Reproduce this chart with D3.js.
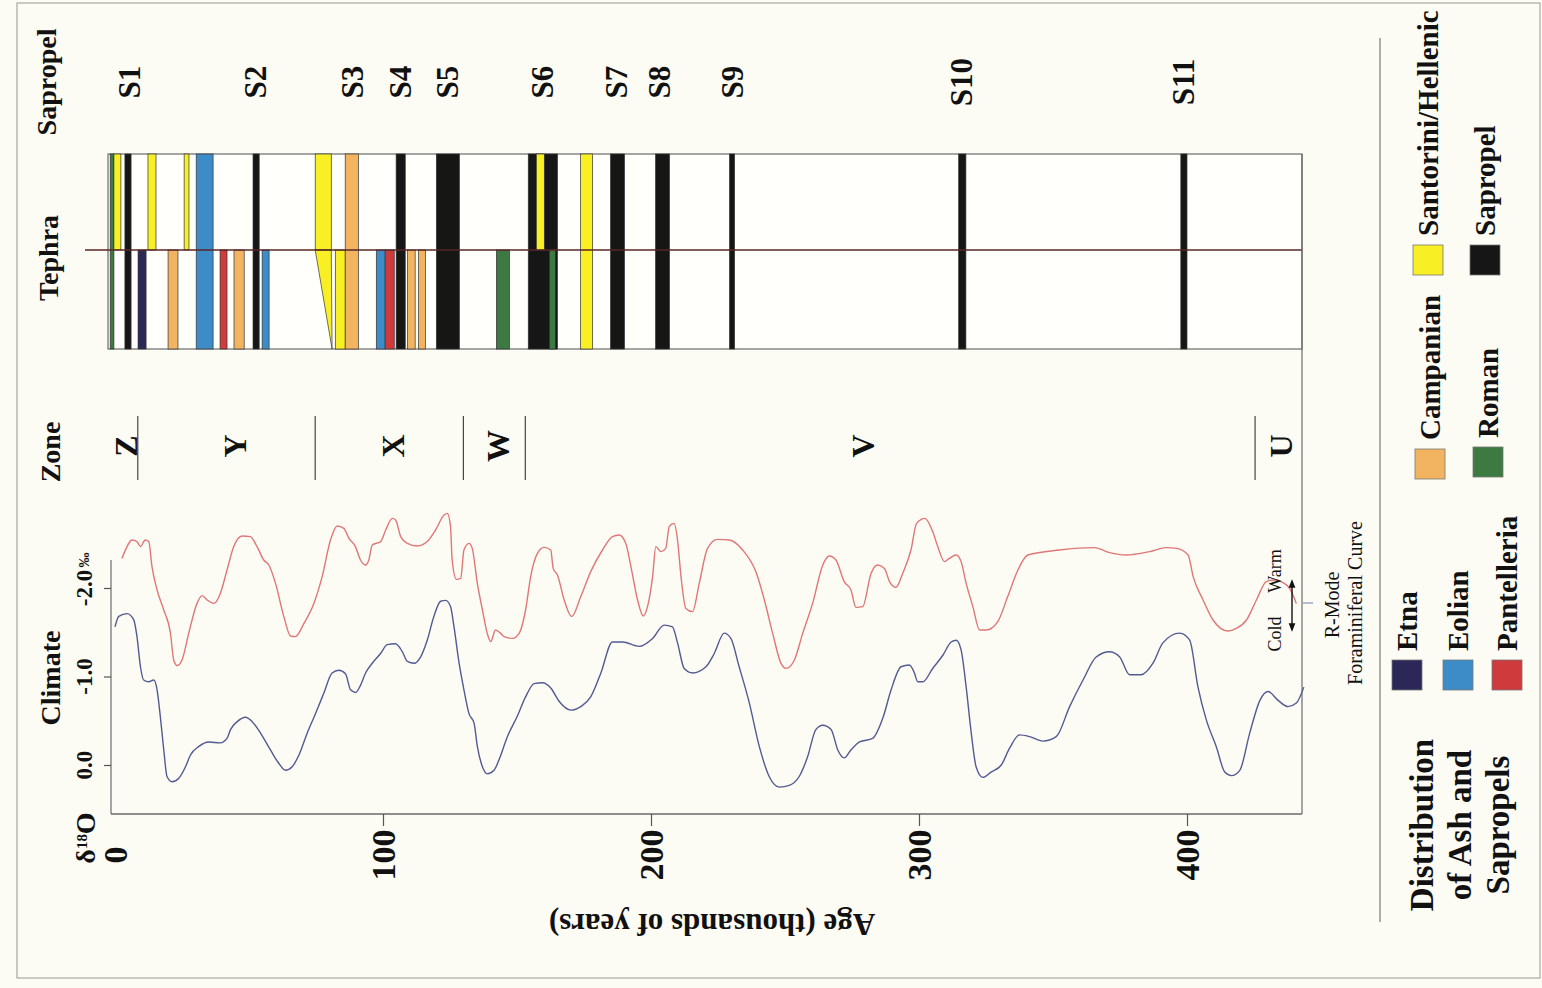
<!DOCTYPE html>
<html>
<head>
<meta charset="utf-8">
<script src="https://cdn.jsdelivr.net/npm/d3@7"></script>
<style>
body { margin: 0; background: #fdfcf4; }
text { font-family: "Liberation Serif", "Times New Roman", serif; fill: #111; }
</style>
</head>
<body>
<div id="chart"></div>
<script>

// ---- data (ages in ka) ----
var sapropelNames = ["S1","S2","S3","S4","S5","S6","S7","S8","S9","S10","S11"];
var sapropelAges  = [5.2, 52.3, 88.5, 106.4, 124, 159.5, 187.1, 203.2, 230.4, 315.6, 398.5];

var zoneNames = ["Z","Y","X","W","V","U"];
var zoneLabelAges = [4.1, 44.8, 103.5, 142.7, 279, 435.1];
var zoneBounds = [8.5, 74.7, 130.0, 153.1, 425.4];

var ageTicks = [0, 100, 200, 300, 400];
var d18oTicks = [0, -1, -2];

// tephra layers: [source, from, to, band]  band: u = upper core, l = lower core, b = both
var tephraLayers = [
  ["Roman", -1.8, -0.4, "b"],
  ["Santorini/Hellenic", -0.4, 2.2, "u"],
  ["Sapropel", 3.7, 6.0, "b"],
  ["Etna", 8.6, 11.6, "l"],
  ["Santorini/Hellenic", 12.3, 15.3, "u"],
  ["Campanian", 19.8, 23.5, "l"],
  ["Santorini/Hellenic", 25.8, 27.6, "u"],
  ["Eolian", 30.3, 36.6, "b"],
  ["Pantelleria", 39.2, 41.8, "l"],
  ["Campanian", 44.4, 48.2, "l"],
  ["Sapropel", 51.5, 53.8, "b"],
  ["Eolian", 54.9, 57.5, "l"],
  ["Santorini/Hellenic", 74.7, 80.7, "u"],
  ["Santorini/Hellenic", 82.2, 85.9, "l"],
  ["Campanian", 85.9, 90.8, "b"],
  ["Eolian", 97.5, 100.8, "l"],
  ["Pantelleria", 100.8, 104.2, "l"],
  ["Sapropel", 104.9, 108.3, "b"],
  ["Campanian", 109.1, 112.0, "l"],
  ["Campanian", 113.2, 115.8, "l"],
  ["Sapropel", 119.9, 128.5, "b"],
  ["Roman", 142.3, 147.2, "l"],
  ["Sapropel", 154.2, 165.1, "b"],
  ["Santorini/Hellenic", 157.2, 160.2, "u"],
  ["Roman", 162.1, 164.3, "l"],
  ["Santorini/Hellenic", 173.7, 178.2, "b"],
  ["Sapropel", 184.9, 190.1, "b"],
  ["Sapropel", 201.7, 206.9, "b"],
  ["Sapropel", 229.3, 231.2, "b"],
  ["Sapropel", 314.8, 317.5, "b"],
  ["Sapropel", 397.7, 400.0, "b"]
];
// tapering Santorini ash in the lower core: top from/to, bottom tip
var wedge = [74.7, 80.7, 81.0];

var legendNames  = ["Etna","Eolian","Pantelleria","Campanian","Roman","Santorini/Hellenic","Sapropel"];
var legendColors = ["#2b2858","#3d8cc8","#cf3a3d","#f3b462","#3c7a42","#f8ef25","#161616"];

// oxygen isotope curve
var isoAge = [0,1.4,4.5,7.0,8.2,9.5,10.7,12.6,14.5,15.7,16.9,18.2,19.4,21.3,23.8,26.3,28.1,31.3,35.0,39.3,
  41.8,43.1,45.6,48.7,51.2,54.3,58.0,61.1,63.6,66.1,68.6,71.7,74.8,77.9,81.0,83.5,86.0,87.9,89.8,91.6,
  93.5,96.0,99.1,101.6,104.7,107.2,109.1,111.6,114.0,116.5,119.0,121.5,123.4,125.2,126.5,128.4,130.2,132.1,134.0,135.2,
  137.1,138.9,141.4,143.3,146.4,150.1,153.2,156.4,159.5,162.6,165.7,170.1,173.8,177.5,181.3,185.6,189.4,195.6,200.6,204.9,
  208.0,209.9,212.4,215.5,220.5,223.6,227.3,229.8,232.9,236.7,240.4,244.1,247.9,251.6,255.3,258.4,261.5,264.1,267.2,269.7,
  272.1,274.6,277.8,282.7,286.5,289.6,293.3,296.4,298.3,299.5,301.4,305.1,308.9,312.0,313.9,315.7,317.6,319.5,321.3,323.8,
  326.9,330.7,333.8,337.5,341.3,346.2,351.2,356.2,361.2,366.1,371.1,374.9,378.6,382.9,387.3,391.0,397.3,401.0,404.1,407.2,
  410.9,414.1,416.6,419.7,423.4,427.2,430.3,434.0,437.7,440.8,443.6];
var isoD18O = [-1.56,-1.68,-1.71,-1.64,-1.45,-1.11,-0.96,-0.94,-0.96,-0.85,-0.55,-0.17,0.13,0.19,0.15,0.02,-0.11,-0.21,-0.26,-0.25,
  -0.30,-0.40,-0.49,-0.54,-0.49,-0.36,-0.17,-0.02,0.06,0.02,-0.11,-0.36,-0.58,-0.81,-1.04,-1.07,-1.03,-0.85,-0.82,-0.90,
  -1.04,-1.15,-1.26,-1.36,-1.37,-1.28,-1.17,-1.15,-1.22,-1.41,-1.68,-1.85,-1.86,-1.79,-1.56,-1.15,-0.85,-0.58,-0.47,-0.21,
  0.02,0.10,0.06,-0.06,-0.32,-0.55,-0.77,-0.92,-0.93,-0.87,-0.72,-0.62,-0.66,-0.77,-1.04,-1.39,-1.39,-1.34,-1.43,-1.58,
  -1.56,-1.38,-1.09,-1.04,-1.11,-1.26,-1.49,-1.43,-1.11,-0.70,-0.21,0.13,0.25,0.23,0.13,-0.09,-0.40,-0.45,-0.40,-0.17,
  -0.08,-0.17,-0.26,-0.30,-0.53,-0.85,-1.11,-1.13,-1.04,-0.94,-0.94,-1.09,-1.24,-1.39,-1.41,-1.30,-0.88,-0.36,0.02,0.14,
  0.08,0.00,-0.19,-0.34,-0.32,-0.27,-0.32,-0.66,-0.96,-1.22,-1.28,-1.22,-1.02,-1.02,-1.15,-1.38,-1.49,-1.41,-0.88,-0.51,
  -0.21,0.08,0.12,0.06,-0.36,-0.73,-0.83,-0.73,-0.66,-0.70,-0.88];

// R-mode foraminiferal curve (cold -> warm, arbitrary units)
var foramAge = [2.6,4.5,6.3,8.2,9.5,11.3,12.6,13.8,15.7,18.2,20.7,21.9,23.2,25.0,27.5,30.6,32.5,34.4,36.9,39.3,
  41.8,44.3,47.4,50.5,53.0,55.5,57.4,59.9,63.0,65.5,67.3,70.5,74.2,77.3,80.4,82.9,85.4,87.3,89.7,91.6,
  93.5,94.7,96.0,99.1,101.0,103.5,104.7,106.6,109.1,112.8,116.5,119.6,122.8,124.0,125.2,125.8,127.4,129.0,130.2,132.1,
  133.3,135.2,137.1,138.9,140.2,142.0,143.9,145.2,148.3,150.8,153.2,155.1,157.6,160.1,162.6,163.5,165.1,167.6,170.4,173.8,
  177.5,181.9,185.6,188.1,190.6,192.5,195.0,197.1,198.7,200.6,201.8,203.7,205.5,206.8,208.6,209.9,211.2,213.0,215.5,218.0,
  221.1,224.8,229.2,234.2,239.1,242.3,245.4,248.5,250.4,253.5,256.6,260.3,264.1,266.5,269.0,272.1,274.6,276.5,279.0,282.1,
  284.6,287.1,289.0,291.4,293.9,297.0,299.1,302.2,305.1,307.0,309.5,311.3,313.9,315.7,317.6,320.1,322.6,325.1,329.4,333.1,
  336.9,340.6,352.4,365.5,371.1,377.3,386.1,392.3,396.1,400.4,402.3,406.0,409.7,415.3,418.4,422.2,425.9,429.6,432.7,435.8,
  438.3,440.8];
var foramValue = [7.08,7.67,8.00,7.92,7.67,8.00,7.92,6.67,5.50,4.50,3.33,2.00,1.72,2.00,3.33,4.83,5.22,5.00,4.83,5.33,
  6.50,7.67,8.20,8.17,7.67,7.00,6.75,5.83,4.17,3.20,3.17,3.83,4.83,6.17,8.00,8.70,8.58,8.08,7.67,7.00,
  6.75,7.00,7.75,7.92,8.50,9.08,9.00,8.17,7.83,7.70,7.92,8.50,9.25,9.33,8.67,7.00,6.03,6.08,7.50,7.83,
  7.58,5.83,4.50,3.33,2.92,3.50,3.33,3.17,3.08,3.33,4.50,6.17,7.33,7.63,7.50,6.58,6.25,5.00,4.17,5.17,
  6.42,7.50,8.17,8.25,7.83,6.67,5.00,4.20,4.67,6.17,7.67,7.42,7.58,8.67,8.83,8.00,6.17,4.58,4.42,5.83,
  7.58,8.03,8.00,7.50,6.42,5.00,3.33,1.83,1.58,2.00,3.33,4.83,6.75,7.20,7.00,5.92,5.50,4.63,4.67,6.33,
  6.75,6.58,5.92,5.63,6.33,7.50,8.83,9.08,8.42,7.67,6.92,7.08,7.25,6.92,5.83,4.67,3.50,3.50,3.92,5.17,
  6.50,7.25,7.50,7.62,7.37,7.25,7.42,7.62,7.58,7.25,6.17,5.00,4.00,3.45,3.58,4.00,5.00,5.92,6.00,5.87,
  5.58,4.83];

// ---- layout ----
var width = 1542, height = 988;
var plotLeft = 108, plotRight = 1302;
var tephraTop = 154, tephraMid = 250, tephraBottom = 349;
var axisY = 814;

var x = d3.scaleLinear().domain([0, 400]).range([115, 1187]);
var yIso = d3.scaleLinear().domain([0, -2]).range([765, 588]);
var yForam = d3.scaleLinear().domain([0, 10]).range([700, 500]);
var color = d3.scaleOrdinal().domain(legendNames).range(legendColors);

var bands = {u: [tephraTop, tephraMid], l: [tephraMid, tephraBottom], b: [tephraTop, tephraBottom]};

var svg = d3.select("#chart").append("svg")
  .attr("width", width)
  .attr("height", height);

svg.append("rect").attr("width", width).attr("height", height).attr("fill", "#fdfcf4");
svg.append("rect").attr("x", 17).attr("y", 3).attr("width", 1523).attr("height", 975)
  .attr("fill", "none").attr("stroke", "#a8a8a0").attr("stroke-width", 1.2);

function vtext(x0, y0, str, size, weight, anchor) {
  return svg.append("text")
    .attr("transform", "translate(" + x0 + "," + y0 + ") rotate(-90)")
    .attr("text-anchor", anchor || "middle")
    .attr("dy", "0.35em")
    .style("font-size", size + "px")
    .style("font-weight", weight || "bold")
    .text(str);
}

// column headers
vtext(46, 82, "Sapropel", 28);
vtext(48, 258, "Tephra", 28);
vtext(50, 452, "Zone", 28);
vtext(50, 678, "Climate", 28);
var dl = vtext(85, 838, "", 28);
dl.append("tspan").text("δ");
dl.append("tspan").attr("baseline-shift", "super").style("font-size", "15px").text("18");
dl.append("tspan").text("O");

// sapropel labels
svg.selectAll(".sap")
  .data(sapropelNames)
  .enter()
  .append("text")
  .attr("class", "sap")
  .attr("transform", function(d, i) { return "translate(" + x(sapropelAges[i]) + ",82) rotate(-90)"; })
  .attr("text-anchor", "middle")
  .attr("dy", "0.35em")
  .style("font-size", "31px")
  .style("font-weight", "bold")
  .text(function(d) { return d; });

// tephra box
svg.append("rect")
  .attr("x", plotLeft).attr("y", tephraTop)
  .attr("width", plotRight - plotLeft).attr("height", tephraBottom - tephraTop)
  .attr("fill", "#fffffb").attr("stroke", "#6a6a6a").attr("stroke-width", 1.2);

svg.selectAll(".layer")
  .data(tephraLayers)
  .enter()
  .append("rect")
  .attr("class", "layer")
  .attr("x", function(d) { return x(d[1]); })
  .attr("y", function(d) { return bands[d[3]][0]; })
  .attr("width", function(d) { return x(d[2]) - x(d[1]); })
  .attr("height", function(d) { return bands[d[3]][1] - bands[d[3]][0]; })
  .attr("fill", function(d) { return color(d[0]); })
  .attr("stroke", "#333")
  .attr("stroke-width", 0.7);

svg.append("path")
  .datum([[wedge[0], tephraMid], [wedge[1], tephraMid], [wedge[2], tephraBottom]])
  .attr("d", d3.line().x(function(d) { return x(d[0]); }).y(function(d) { return d[1]; }).curve(d3.curveLinearClosed))
  .attr("fill", color("Santorini/Hellenic"))
  .attr("stroke", "#333")
  .attr("stroke-width", 0.7);

svg.append("line")
  .attr("x1", 85).attr("x2", plotRight).attr("y1", tephraMid).attr("y2", tephraMid)
  .attr("stroke", "#5a2626").attr("stroke-width", 1.4);

// zones
svg.selectAll(".zb")
  .data(zoneBounds)
  .enter()
  .append("line")
  .attr("class", "zb")
  .attr("x1", function(d) { return x(d); })
  .attr("x2", function(d) { return x(d); })
  .attr("y1", 416).attr("y2", 480)
  .attr("stroke", "#444").attr("stroke-width", 1.2);

svg.selectAll(".zl")
  .data(zoneNames)
  .enter()
  .append("text")
  .attr("class", "zl")
  .attr("transform", function(d, i) { return "translate(" + x(zoneLabelAges[i]) + ",446) rotate(-90)"; })
  .attr("text-anchor", "middle")
  .attr("dy", "0.35em")
  .style("font-size", "32px")
  .style("font-weight", "bold")
  .text(function(d) { return d; });

// climate frame and axes
svg.append("line").attr("x1", plotRight).attr("x2", plotRight).attr("y1", tephraTop).attr("y2", axisY)
  .attr("stroke", "#6a6a6a").attr("stroke-width", 1.2);
svg.append("line").attr("x1", 111).attr("x2", 111).attr("y1", 560).attr("y2", axisY)
  .attr("stroke", "#6a6a6a").attr("stroke-width", 1.2);
svg.append("line").attr("x1", 111).attr("x2", plotRight).attr("y1", axisY).attr("y2", axisY)
  .attr("stroke", "#6a6a6a").attr("stroke-width", 1.4);

var xAxis = svg.append("g")
  .attr("transform", "translate(0," + axisY + ")")
  .call(d3.axisBottom(x).tickValues(ageTicks.slice(1)).tickSize(12).tickFormat(""));
xAxis.select(".domain").remove();
xAxis.selectAll("line").attr("stroke", "#555").attr("stroke-width", 1.2);

svg.selectAll(".agelab")
  .data(ageTicks)
  .enter()
  .append("text")
  .attr("class", "agelab")
  .attr("transform", function(d) { return "translate(" + x(d) + ",855) rotate(-90)"; })
  .attr("text-anchor", "middle")
  .attr("dy", "0.35em")
  .style("font-size", "34px")
  .style("font-weight", "bold")
  .text(function(d) { return d; });

var yAxis = svg.append("g")
  .attr("transform", "translate(111,0)")
  .call(d3.axisLeft(yIso).tickValues(d18oTicks).tickSize(7).tickFormat(""));
yAxis.select(".domain").remove();
yAxis.selectAll("line").attr("stroke", "#555").attr("stroke-width", 1.2);

svg.selectAll(".isolab")
  .data(d18oTicks)
  .enter()
  .append("text")
  .attr("class", "isolab")
  .attr("transform", function(d) { return "translate(84," + yIso(d) + ") rotate(-90)"; })
  .attr("text-anchor", "middle")
  .attr("dy", "0.35em")
  .style("font-size", "23px")
  .style("font-weight", "bold")
  .text(function(d) { return d3.format(".1f")(d).replace("−", "-"); });
vtext(84, 560, "‰", 15, "bold");

svg.append("text")
  .attr("transform", "translate(712,925) rotate(180)")
  .attr("text-anchor", "middle")
  .attr("dy", "0.35em")
  .style("font-size", "31px")
  .style("font-weight", "bold")
  .text("Age (thousands of years)");

// curves
svg.append("path")
  .datum(foramAge.map(function(a, i) { return [a, foramValue[i]]; }))
  .attr("d", d3.line().x(function(d) { return x(d[0]); }).y(function(d) { return yForam(d[1]); }).curve(d3.curveMonotoneX))
  .attr("fill", "none").attr("stroke", "#df7777").attr("stroke-width", 1.4);

svg.append("path")
  .datum(isoAge.map(function(a, i) { return [a, isoD18O[i]]; }))
  .attr("d", d3.line().x(function(d) { return x(d[0]); }).y(function(d) { return yIso(d[1]); }).curve(d3.curveMonotoneX))
  .attr("fill", "none").attr("stroke", "#525a93").attr("stroke-width", 1.4);

// cold / warm note
var defs = svg.append("defs");
defs.append("marker").attr("id", "ah").attr("viewBox", "0 0 10 10").attr("refX", 8).attr("refY", 5)
  .attr("markerWidth", 6).attr("markerHeight", 6).attr("orient", "auto-start-reverse")
  .append("path").attr("d", "M0,1 L10,5 L0,9 z").attr("fill", "#111");
svg.append("line").attr("x1", 1292).attr("x2", 1292).attr("y1", 581).attr("y2", 630)
  .attr("stroke", "#111").attr("stroke-width", 1.4)
  .attr("marker-start", "url(#ah)").attr("marker-end", "url(#ah)");
vtext(1275, 634, "Cold", 18, "normal");
vtext(1275, 571, "Warm", 18, "normal");
svg.append("line").attr("x1", 1303).attr("x2", 1313).attr("y1", 603).attr("y2", 603)
  .attr("stroke", "#8890c0").attr("stroke-width", 1.2);
vtext(1332, 605, "R-Mode", 20, "normal");
vtext(1355, 603, "Foraminiferal Curve", 20, "normal");

// legend
svg.append("line").attr("x1", 1380).attr("x2", 1380).attr("y1", 38).attr("y2", 922)
  .attr("stroke", "#777").attr("stroke-width", 1.2);
vtext(1421, 825, "Distribution", 33);
vtext(1459, 825, "of Ash and", 33);
vtext(1497, 825, "Sapropels", 33);

var legendPos = [[1407, 675], [1458, 675], [1507, 675], [1430, 464], [1488, 462], [1428, 260], [1485, 260]];
var leg = svg.selectAll(".leg")
  .data(legendNames)
  .enter()
  .append("g")
  .attr("class", "leg")
  .attr("transform", function(d, i) { return "translate(" + legendPos[i][0] + "," + legendPos[i][1] + ")"; });
leg.append("rect")
  .attr("x", -15).attr("y", -15).attr("width", 30).attr("height", 30)
  .attr("fill", function(d) { return color(d); })
  .attr("stroke", "#777").attr("stroke-width", 0.8);
leg.append("text")
  .attr("transform", "translate(0,-24) rotate(-90)")
  .attr("dy", "0.35em")
  .style("font-size", "29px")
  .style("font-weight", "bold")
  .text(function(d) { return d; });

</script>
</body>
</html>
